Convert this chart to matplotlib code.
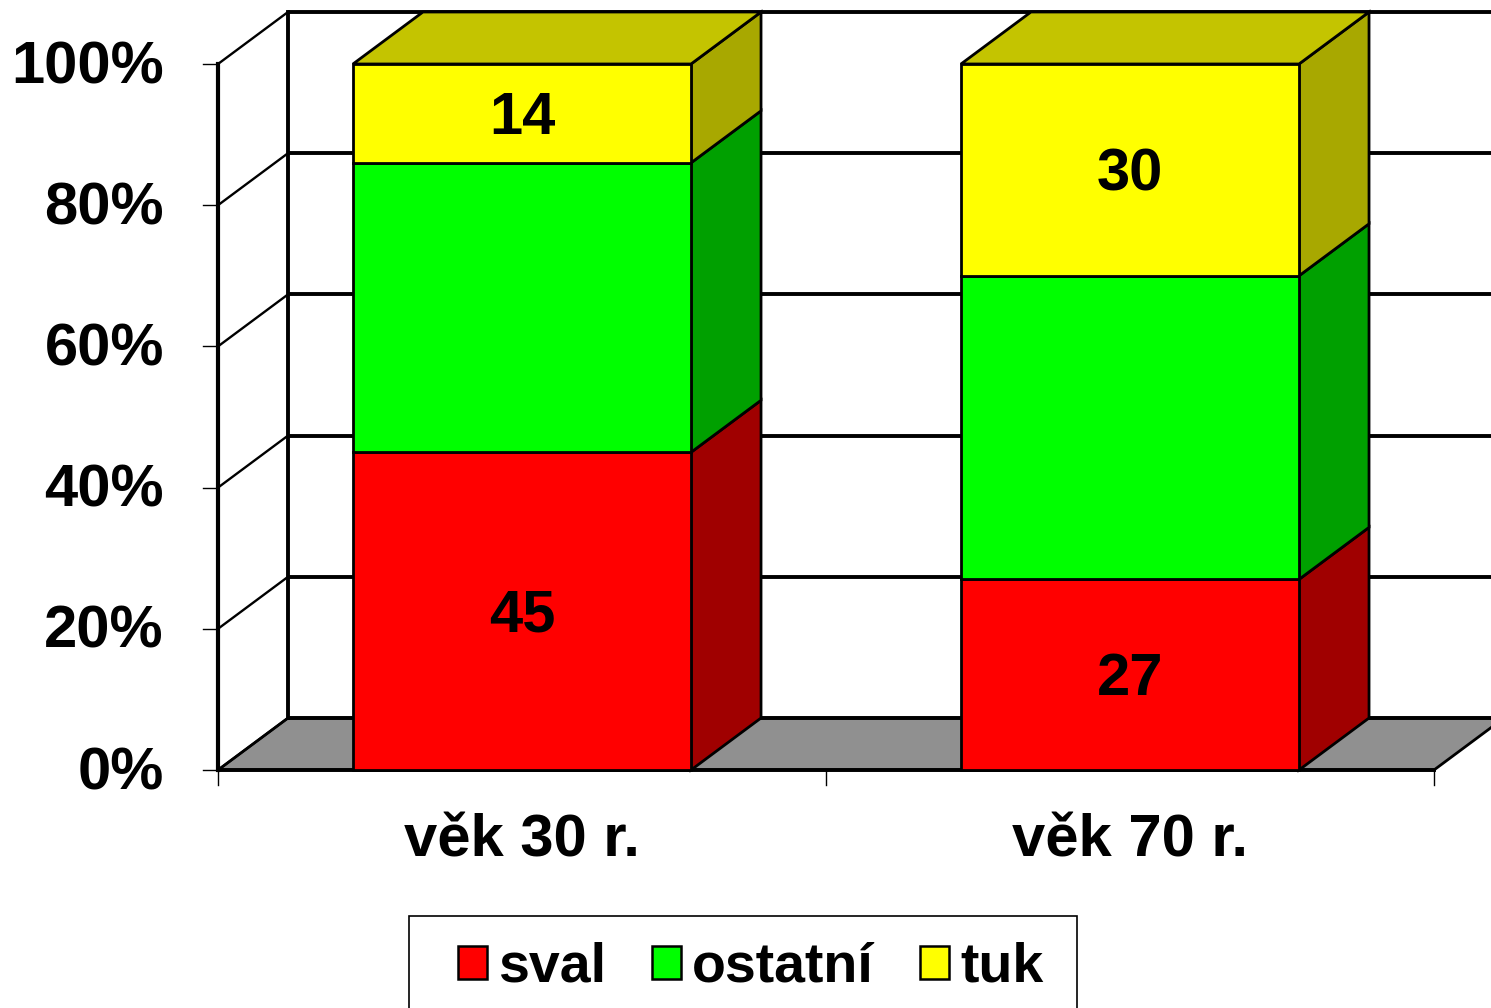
import matplotlib
matplotlib.use("Agg")
import matplotlib.pyplot as plt
from matplotlib.patches import Polygon, Patch, Rectangle

# ---- data ----
categories = ["věk 30 r.", "věk 70 r."]
series_names = ["sval", "ostatní", "tuk"]
sval = [45, 27]
ostatni = [41, 43]
tuk = [14, 30]
labelled = [True, False, True]   # which series show value labels
y_ticks = [0, 20, 40, 60, 80, 100]
y_tick_labels = ["0%", "20%", "40%", "60%", "80%", "100%"]

front_colors = ["#FF0000", "#00FF00", "#FFFF00"]
side_colors = ["#A00000", "#00A000", "#A8A800"]
top_colors = ["#C00000", "#00C000", "#C4C400"]

plt.rcParams['font.family'] = ['Liberation Sans', 'DejaVu Sans']
plt.rcParams['font.weight'] = 'bold'
FS = 43
FS_LEG = 40

fig = plt.figure(figsize=(14.91, 10.08), dpi=100)
ax = fig.add_axes([0, 0, 1, 1])
ax.set_xlim(-0.85855, 1.59375)
ax.set_ylim(-33.711, 109.065)
ax.axis('off')

DX = 70 / 608
DY = 52 / 7.06
X0, X1 = -0.5, len(categories) - 0.5
W = 0.556
lw_wall = 2.8
lw_edge = 2.0
TXT_SHIFT = 0.7   # visual centring of digits

# floor
floor = Polygon([(X0, 0), (X1, 0), (X1 + DX, DY), (X0 + DX, DY)], closed=True,
                facecolor="#909090", edgecolor="black", lw=lw_edge, zorder=1)
ax.add_patch(floor)

# back wall gridlines and left wall
for t, lab in zip(y_ticks, y_tick_labels):
    ax.plot([X0 + DX, 2.0], [t + DY, t + DY], color="black", lw=lw_wall, zorder=2,
            solid_capstyle='butt')
    ax.plot([X0, X0 + DX], [t, t + DY], color="black", lw=1.7, zorder=2)
    ax.plot([X0 - 15 / 608, X0], [t, t], color="black", lw=1.0, zorder=2)
    ax.text(-0.589, t - 0.5, lab, ha="right", va="center",
            fontsize=FS, fontweight="bold")
ax.plot([X0 + DX, X0 + DX], [DY, 100 + DY], color="black", lw=lw_wall, zorder=2)
ax.plot([X0, X0], [0, 100], color="black", lw=3, zorder=6)
ax.plot([X0, X1], [0, 0], color="black", lw=lw_wall, zorder=2)
for xt in [X0, 0.5, X1]:
    ax.plot([xt, xt], [0, -15 / 7.06], color="black", lw=1.0, zorder=2)

# bars
series = [sval, ostatni, tuk]
for i, cat in enumerate(categories):
    bottom = 0
    for s, vals in enumerate(series):
        v = vals[i]
        xl, xr = i - W / 2, i + W / 2
        side = Polygon([(xr, bottom), (xr + DX, bottom + DY), (xr + DX, bottom + v + DY),
                        (xr, bottom + v)], closed=True, facecolor=side_colors[s],
                       edgecolor="black", lw=lw_edge, zorder=4 + i)
        ax.add_patch(side)
        if s == len(series) - 1:
            top = Polygon([(xl, bottom + v), (xr, bottom + v), (xr + DX, bottom + v + DY),
                           (xl + DX, bottom + v + DY)], closed=True, facecolor=top_colors[s],
                          edgecolor="black", lw=lw_edge, zorder=4 + i)
            ax.add_patch(top)
        ax.bar(i, v, bottom=bottom, width=W, color=front_colors[s], edgecolor="black",
               lw=lw_edge, zorder=4.5 + i)
        if labelled[s]:
            ax.text(i, bottom + v / 2 - TXT_SHIFT, str(v), ha="center", va="center",
                    fontsize=FS, fontweight="bold", zorder=10)
        bottom += v
    ax.text(i, -10.0, cat, ha="center", va="center", fontsize=FS, fontweight="bold")

# legend frame (bottom runs past the figure edge, as in the reference)
fig.add_artist(Rectangle((409 / 1491, -0.01), (1077 - 409) / 1491, (1008 - 916) / 1008 + 0.01,
                         transform=fig.transFigure, facecolor="white", edgecolor="black",
                         lw=1.2, zorder=20))
handles = [Patch(facecolor=front_colors[k], edgecolor="black", lw=1.8, label=series_names[k])
           for k in range(3)]
leg = fig.legend(handles=handles, loc="center left", bbox_to_anchor=(452 / 1491, 1 - 968 / 1008),
                 ncol=3, prop={'weight': 'bold', 'size': FS_LEG},
                 frameon=False, borderaxespad=0, borderpad=0.1,
                 handlelength=0.53, handleheight=0.55, handletextpad=0.2, columnspacing=0.82)
leg.set_zorder(21)

fig.savefig("out.png", dpi=100, facecolor="white")
